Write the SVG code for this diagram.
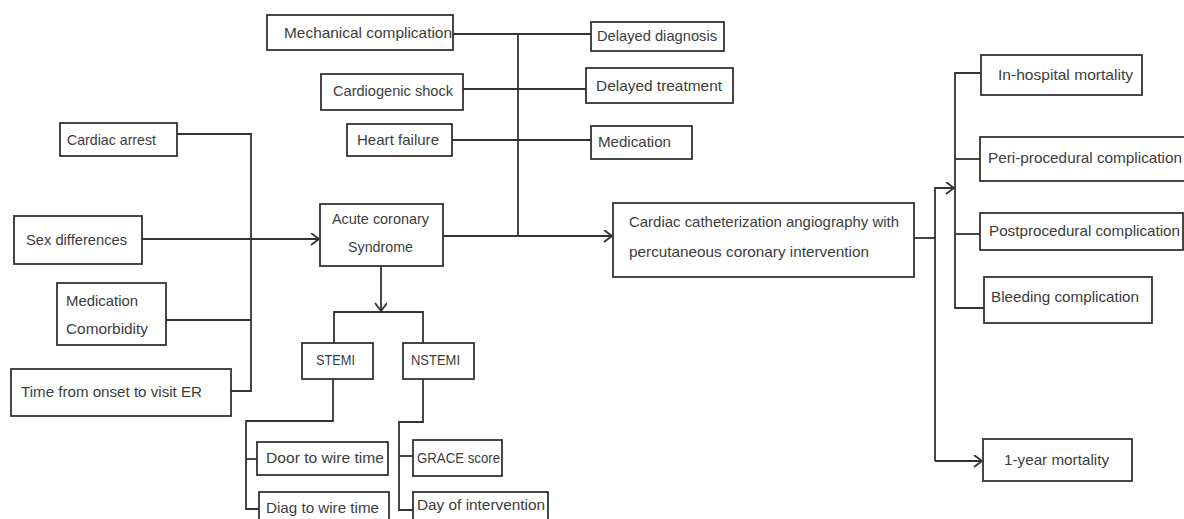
<svg xmlns="http://www.w3.org/2000/svg" width="1184" height="519" viewBox="0 0 1184 519">
<defs>
<style>
.box{fill:#fff;stroke:#333;stroke-width:1.8}
.t{font-family:"Liberation Sans",Arial,sans-serif;font-size:15px;fill:#3c3c3c}
.ln{fill:none;stroke:#333;stroke-width:1.8}
</style>
<marker id="arr" markerUnits="userSpaceOnUse" markerWidth="14" markerHeight="14" refX="10" refY="6" orient="auto">
<path d="M2,0 L10,6 L2,12" fill="none" stroke="#333" stroke-width="1.8"/>
</marker>
</defs>
<rect width="1184" height="519" fill="#fff"/>
<g id="connectors">
<path class="ln" d="M453,34 H591"/>
<path class="ln" d="M463,89 H586"/>
<path class="ln" d="M452,140 H591"/>
<path class="ln" d="M518,34 V236"/>
<path class="ln" d="M443,236 H612" marker-end="url(#arr)"/>
<path class="ln" d="M177,134 H251 V391 H231"/>
<path class="ln" d="M142,239 H319" marker-end="url(#arr)"/>
<path class="ln" d="M166,320 H251"/>
<path class="ln" d="M381,266 V311" marker-end="url(#arr)"/>
<path class="ln" d="M334,343 V312 H423 V343"/>
<path class="ln" d="M333,379 V421 H246 V509 H259"/>
<path class="ln" d="M246,459 H257"/>
<path class="ln" d="M423,379 V422 H399 V510 H413"/>
<path class="ln" d="M399,456 H413"/>
<path class="ln" d="M914,238 H935"/>
<path class="ln" d="M935,461 V188 H954" marker-end="url(#arr)"/>
<path class="ln" d="M935,461 H982" marker-end="url(#arr)"/>
<path class="ln" d="M981,73 H955 V308 H984"/>
<path class="ln" d="M955,159 H980"/>
<path class="ln" d="M955,234 H980"/>
</g>
<g id="mechanical"><rect class="box" x="267" y="15" width="186" height="35"/><text class="t" x="284" y="38" textLength="168" lengthAdjust="spacingAndGlyphs">Mechanical complication</text></g>
<g id="cardiogenic"><rect class="box" x="321" y="74" width="142" height="36"/><text class="t" x="333" y="96" textLength="120" lengthAdjust="spacingAndGlyphs">Cardiogenic shock</text></g>
<g id="heartfailure"><rect class="box" x="347" y="124" width="105" height="32"/><text class="t" x="357" y="145" textLength="82" lengthAdjust="spacingAndGlyphs">Heart failure</text></g>
<g id="delayeddiag"><rect class="box" x="591" y="22" width="133" height="29"/><text class="t" x="597" y="41" textLength="120" lengthAdjust="spacingAndGlyphs">Delayed diagnosis</text></g>
<g id="delayedtreat"><rect class="box" x="586" y="68" width="147" height="35"/><text class="t" x="596" y="91" textLength="126" lengthAdjust="spacingAndGlyphs">Delayed treatment</text></g>
<g id="medication"><rect class="box" x="591" y="126" width="101" height="33"/><text class="t" x="598" y="147" textLength="73" lengthAdjust="spacingAndGlyphs">Medication</text></g>
<g id="cardiacarrest"><rect class="box" x="60" y="123" width="117" height="33"/><text class="t" x="67" y="145" textLength="89" lengthAdjust="spacingAndGlyphs">Cardiac arrest</text></g>
<g id="sexdiff"><rect class="box" x="14" y="216" width="128" height="48"/><text class="t" x="26" y="245" textLength="101" lengthAdjust="spacingAndGlyphs">Sex differences</text></g>
<g id="medcomorb"><rect class="box" x="57" y="283" width="109" height="62"/><text class="t" x="66" y="306" textLength="72" lengthAdjust="spacingAndGlyphs">Medication</text><text class="t" x="66" y="334" textLength="82" lengthAdjust="spacingAndGlyphs">Comorbidity</text></g>
<g id="timeonset"><rect class="box" x="11" y="369" width="220" height="47"/><text class="t" x="21" y="397" textLength="181" lengthAdjust="spacingAndGlyphs">Time from onset to visit ER</text></g>
<g id="acs"><rect class="box" x="320" y="204" width="123" height="62"/><text class="t" x="332" y="224" textLength="97" lengthAdjust="spacingAndGlyphs">Acute coronary</text><text class="t" x="348" y="252" textLength="65" lengthAdjust="spacingAndGlyphs">Syndrome</text></g>
<g id="cath"><rect class="box" x="613" y="203" width="301" height="74"/><text class="t" x="629" y="227" textLength="270" lengthAdjust="spacingAndGlyphs">Cardiac catheterization angiography with</text><text class="t" x="629" y="257" textLength="240" lengthAdjust="spacingAndGlyphs">percutaneous coronary intervention</text></g>
<g id="stemi"><rect class="box" x="302" y="343" width="71" height="36"/><text class="t" x="316" y="365" textLength="39" lengthAdjust="spacingAndGlyphs">STEMI</text></g>
<g id="nstemi"><rect class="box" x="403" y="343" width="71" height="36"/><text class="t" x="411" y="365" textLength="49" lengthAdjust="spacingAndGlyphs">NSTEMI</text></g>
<g id="door"><rect class="box" x="257" y="442" width="131" height="33"/><text class="t" x="266" y="463" textLength="118" lengthAdjust="spacingAndGlyphs">Door to wire time</text></g>
<g id="diag"><rect class="box" x="259" y="492" width="130" height="40"/><text class="t" x="266" y="513" textLength="113" lengthAdjust="spacingAndGlyphs">Diag to wire time</text></g>
<g id="grace"><rect class="box" x="413" y="440" width="89" height="36"/><text class="t" x="417" y="463" textLength="83" lengthAdjust="spacingAndGlyphs">GRACE score</text></g>
<g id="dayint"><rect class="box" x="413" y="492" width="135" height="40"/><text class="t" x="417" y="510" textLength="128" lengthAdjust="spacingAndGlyphs">Day of intervention</text></g>
<g id="inhosp"><rect class="box" x="981" y="55" width="161" height="40"/><text class="t" x="998" y="80" textLength="135" lengthAdjust="spacingAndGlyphs">In-hospital mortality</text></g>
<g id="periproc"><rect class="box" x="980" y="137" width="215" height="44"/><text class="t" x="988" y="163" textLength="194" lengthAdjust="spacingAndGlyphs">Peri-procedural complication</text></g>
<g id="postproc"><rect class="box" x="980" y="213" width="203" height="37"/><text class="t" x="989" y="236" textLength="191" lengthAdjust="spacingAndGlyphs">Postprocedural complication</text></g>
<g id="bleeding"><rect class="box" x="984" y="277" width="168" height="46"/><text class="t" x="991" y="302" textLength="148" lengthAdjust="spacingAndGlyphs">Bleeding complication</text></g>
<g id="oneyear"><rect class="box" x="983" y="439" width="149" height="42"/><text class="t" x="1004" y="465" textLength="105" lengthAdjust="spacingAndGlyphs">1-year mortality</text></g>
</svg>
